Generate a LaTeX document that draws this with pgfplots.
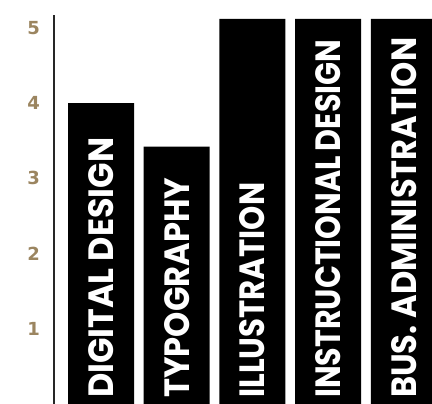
\documentclass[border=0pt]{standalone}
\usepackage{fontspec}
\usepackage{graphicx}
\usepackage{pgfplots}
\pgfplotsset{compat=1.18}
\setmainfont{Poppins}
\newfontfamily\tickfont{DejaVu Sans}
\definecolor{tickbrown}{HTML}{9B8560}
% bar label squeezed to the measured length and cap height
\newcommand\lab[2]{\resizebox{#1}{25pt}{\bfseries #2}}
\begin{document}
\begin{tikzpicture}
\begin{axis}[
  scale only axis, width=378pt, height=389pt,
  xmin=-0.621, xmax=4.373, ymin=0, ymax=5.17,
  axis on top,
  axis lines=left, axis line style={-},
  x axis line style={draw=none},
  y axis line style={draw=black!85, line width=2pt},
  xtick={0,...,4}, ytick={1,...,5},
  major tick length=0pt,
  xticklabels={\lab{260pt}{DIGITAL DESIGN},\lab{220pt}{TYPOGRAPHY},\lab{215pt}{ILLUSTRATION},\lab{358pt}{INSTRUCTIONAL\,DESIGN},\lab{360pt}{BUS. ADMINISTRATION}},
  xticklabel style={rotate=90, anchor=west, text=white, inner xsep=6pt, inner ysep=0pt},
  /pgf/number format/assume math mode=true,
  yticklabel style={text=tickbrown, font=\tickfont\bfseries\fontsize{18}{18}\selectfont, anchor=east, inner sep=0pt, xshift=-14pt},
  clip=true,
]
\addplot[ybar, fill=black, draw=none, bar width=0.872] coordinates {(0,4) (1,3.42) (2,5.12) (3,5.12) (4,5.12)};
\end{axis}
\pgfresetboundingbox
\path (-54pt,0) rectangle (378pt,404pt);
\end{tikzpicture}
\end{document}
